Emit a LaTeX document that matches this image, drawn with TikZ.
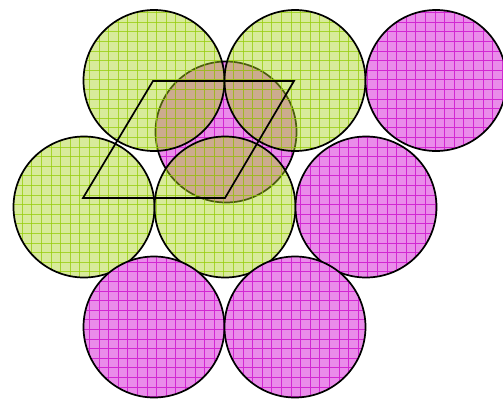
\documentclass[tikz,border=0pt]{standalone}
\usepackage{tikz}
\definecolor{limefill}{RGB}{168,210,30}
\definecolor{limeline}{RGB}{150,205,10}
\definecolor{orchidfill}{RGB}{234,140,234}
\definecolor{orchidline}{RGB}{210,40,210}

\begin{document}
\begin{tikzpicture}[x=1pt,y=-1pt,
    rim/.style={line width=1.7pt},
    mesh/.style={line width=0.7pt}]

  \useasboundingbox (0,0) rectangle (503,399);

  % Centres of the disks
  \coordinate (mid) at (226,132);
  \coordinate (gA) at (154,80.5);
  \coordinate (gB) at (295,80.5);
  \coordinate (gC) at (84,207);
  \coordinate (gD) at (225,207);
  \coordinate (pA) at (436,80.5);
  \coordinate (pB) at (366,207);
  \coordinate (pC) at (154,327);
  \coordinate (pD) at (295,327);

  % Middle disk (lies under the green ones)
  \fill[orchidfill] (mid) circle (70.5pt);
  \begin{scope}
    \clip (mid) circle (70.5pt);
    \foreach \k in {0,...,52} {
      \draw[mesh,orchidline] (3+9.6*\k,0) -- (3+9.6*\k,399);
      \draw[mesh,orchidline] (0,3+9.6*\k) -- (503,3+9.6*\k);
    }
  \end{scope}
  \draw[rim] (mid) circle (70.5pt);

  % Green disks (see-through)
  \foreach \c in {gA,gB,gC,gD} {
    \fill[limefill,fill opacity=0.45] (\c) circle (70.5pt);
    \begin{scope}
      \clip (\c) circle (70.5pt);
      \foreach \k in {0,...,52} {
        \draw[mesh,limeline,draw opacity=0.75] (3+9.6*\k,0) -- (3+9.6*\k,399);
        \draw[mesh,limeline,draw opacity=0.75] (0,3+9.6*\k) -- (503,3+9.6*\k);
      }
    \end{scope}
    \draw[rim] (\c) circle (70.5pt);
  }

  % Magenta disks
  \foreach \c in {pA,pB,pC,pD} {
    \fill[orchidfill] (\c) circle (70.5pt);
    \begin{scope}
      \clip (\c) circle (70.5pt);
      \foreach \k in {0,...,52} {
        \draw[mesh,orchidline] (3+9.6*\k,0) -- (3+9.6*\k,399);
        \draw[mesh,orchidline] (0,3+9.6*\k) -- (503,3+9.6*\k);
      }
    \end{scope}
    \draw[rim] (\c) circle (70.5pt);
  }

  % Cell
  \coordinate (q1) at (153,81);
  \coordinate (q2) at (294,81);
  \coordinate (q3) at (225,198);
  \coordinate (q4) at (83,198);
  \draw[rim] (q1) -- (q2) -- (q3) -- (q4) -- cycle;

\end{tikzpicture}
\end{document}
